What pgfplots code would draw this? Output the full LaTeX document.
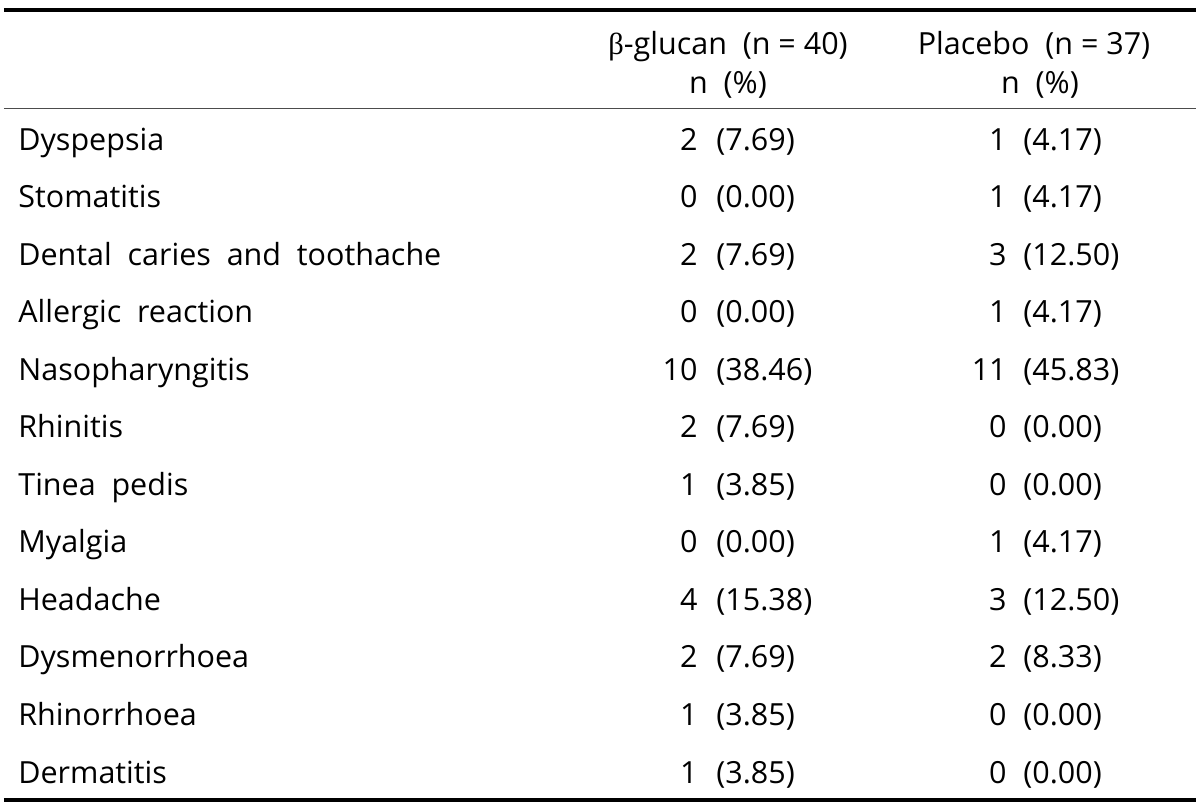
\documentclass[border=0pt]{standalone}
\usepackage{fontspec}
\setmainfont{Open Sans}
\newfontfamily\grk{Liberation Serif}
\usepackage{pgfplots}
\usepackage{pgfplotstable}
\pgfplotsset{compat=1.18}

\pgfplotstableread[col sep=comma]{
x,y,t
18,150,Dyspepsia
18,207.55,Stomatitis
18,265.1,Dental\ \ caries\ \ and\ \ toothache
18,322.65,Allergic\ \ reaction
18,380.2,Nasopharyngitis
18,437.75,Rhinitis
18,495.3,Tinea\ \ pedis
18,552.85,Myalgia
18,610.4,Headache
18,667.95,Dysmenorrhoea
18,725.5,Rhinorrhoea
18,783.05,Dermatitis
}\rowlabels

\pgfplotstableread[col sep=comma]{
x,y,t
698,150,2
698,207.55,0
698,265.1,2
698,322.65,0
698,380.2,10
698,437.75,2
698,495.3,1
698,552.85,0
698,610.4,4
698,667.95,2
698,725.5,1
698,783.05,1
}\glucann

\pgfplotstableread[col sep=comma]{
x,y,t
716,150,(7.69)
716,207.55,(0.00)
716,265.1,(7.69)
716,322.65,(0.00)
716,380.2,(38.46)
716,437.75,(7.69)
716,495.3,(3.85)
716,552.85,(0.00)
716,610.4,(15.38)
716,667.95,(7.69)
716,725.5,(3.85)
716,783.05,(3.85)
}\glucanp

\pgfplotstableread[col sep=comma]{
x,y,t
1007,150,1
1007,207.55,1
1007,265.1,3
1007,322.65,1
1007,380.2,11
1007,437.75,0
1007,495.3,0
1007,552.85,1
1007,610.4,3
1007,667.95,2
1007,725.5,0
1007,783.05,0
}\placn

\pgfplotstableread[col sep=comma]{
x,y,t
1023,150,(4.17)
1023,207.55,(4.17)
1023,265.1,(12.50)
1023,322.65,(4.17)
1023,380.2,(45.83)
1023,437.75,(0.00)
1023,495.3,(0.00)
1023,552.85,(4.17)
1023,610.4,(12.50)
1023,667.95,(8.33)
1023,725.5,(0.00)
1023,783.05,(0.00)
}\placp

\pgfplotstableread[col sep=comma]{
x,y,t
728,55,{\grk β}-glucan\ \ (n = 40)
728,93,n\ \ (\%)
1034,55,Placebo\ \ (n = 37)
1040,93,n\ \ (\%)
}\header

\pgfplotsset{
  cell/.style={only marks, mark=none, draw=none,
    nodes near coords, point meta=explicit symbolic,
    every node near coord/.append style={anchor=#1, inner sep=0pt,
      font=\fontsize{15.3}{18}\selectfont, text=black}},
}

\begin{document}
\begin{tikzpicture}
\begin{axis}[
  scale only axis, width=600bp, height=402.5bp,
  xmin=0, xmax=1200, ymin=0, ymax=805, y dir=reverse,
  hide axis, clip=false,
]
\addplot[draw=none] coordinates {(0,0) (1200,805)};
\addplot[black, line width=2bp] coordinates {(4,10) (1196,10)};
\addplot[black!70, line width=0.8bp] coordinates {(4,108.5) (1196,108.5)};
\addplot[black, line width=2.2bp] coordinates {(4,800) (1196,800)};
\addplot[cell=base west] table[x=x, y=y, meta=t] {\rowlabels};
\addplot[cell=base east] table[x=x, y=y, meta=t] {\glucann};
\addplot[cell=base west] table[x=x, y=y, meta=t] {\glucanp};
\addplot[cell=base east] table[x=x, y=y, meta=t] {\placn};
\addplot[cell=base west] table[x=x, y=y, meta=t] {\placp};
\addplot[cell=base] table[x=x, y=y, meta=t] {\header};
\end{axis}
\end{tikzpicture}
\end{document}
